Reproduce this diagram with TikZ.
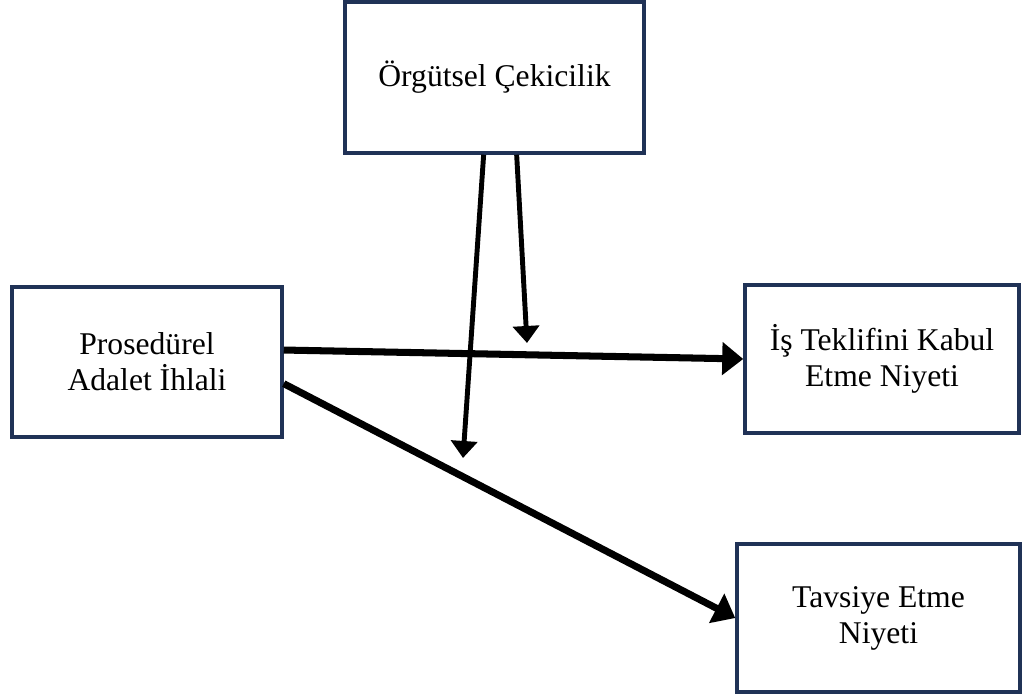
\documentclass[tikz,border=0pt]{standalone}
\usepackage{fontspec}
\setmainfont{Liberation Serif}
\usetikzlibrary{arrows.meta}
\definecolor{kutucizgi}{RGB}{32,50,86}
\begin{document}
\begin{tikzpicture}[
    box/.style={draw=kutucizgi,line width=2pt,fill=white,align=center,
        font=\fontsize{18}{20.5}\selectfont,inner sep=0pt},
    kalin/.style={line width=4pt,-{Triangle[length=0.42cm,width=0.64cm]}},
    ince/.style={line width=2.8pt,-{Triangle[length=0.34cm,width=0.52cm]}}]

    \useasboundingbox (0,0) rectangle (20.44,13.94);

    \node[box,minimum width=5.98cm,minimum height=3.02cm] (orgut) at (9.89,12.39) {Örgütsel Çekicilik};
    \node[box,minimum width=5.4cm,minimum height=3cm] (ihlal) at (2.94,6.70) {Prosedürel\\Adalet İhlali};
    \node[box,minimum width=5.48cm,minimum height=2.96cm] (teklif) at (17.64,6.76) {İş Teklifini Kabul\\Etme Niyeti};
    \node[box,minimum width=5.66cm,minimum height=2.96cm] (tavsiye) at (17.57,1.58) {Tavsiye Etme\\Niyeti};

    % moderator arrow ends
    \coordinate (ucA) at (9.26,4.78);
    \coordinate (ucB) at (10.54,7.08);

    \draw[kalin] (ihlal.5.5) -- (teklif.west);
    \draw[kalin] (ihlal.-9.7) -- (tavsiye.west);
    \draw[ince] (orgut.262.8) -- (ucA);
    \draw[ince] (orgut.286.6) -- (ucB);

\end{tikzpicture}
\end{document}
